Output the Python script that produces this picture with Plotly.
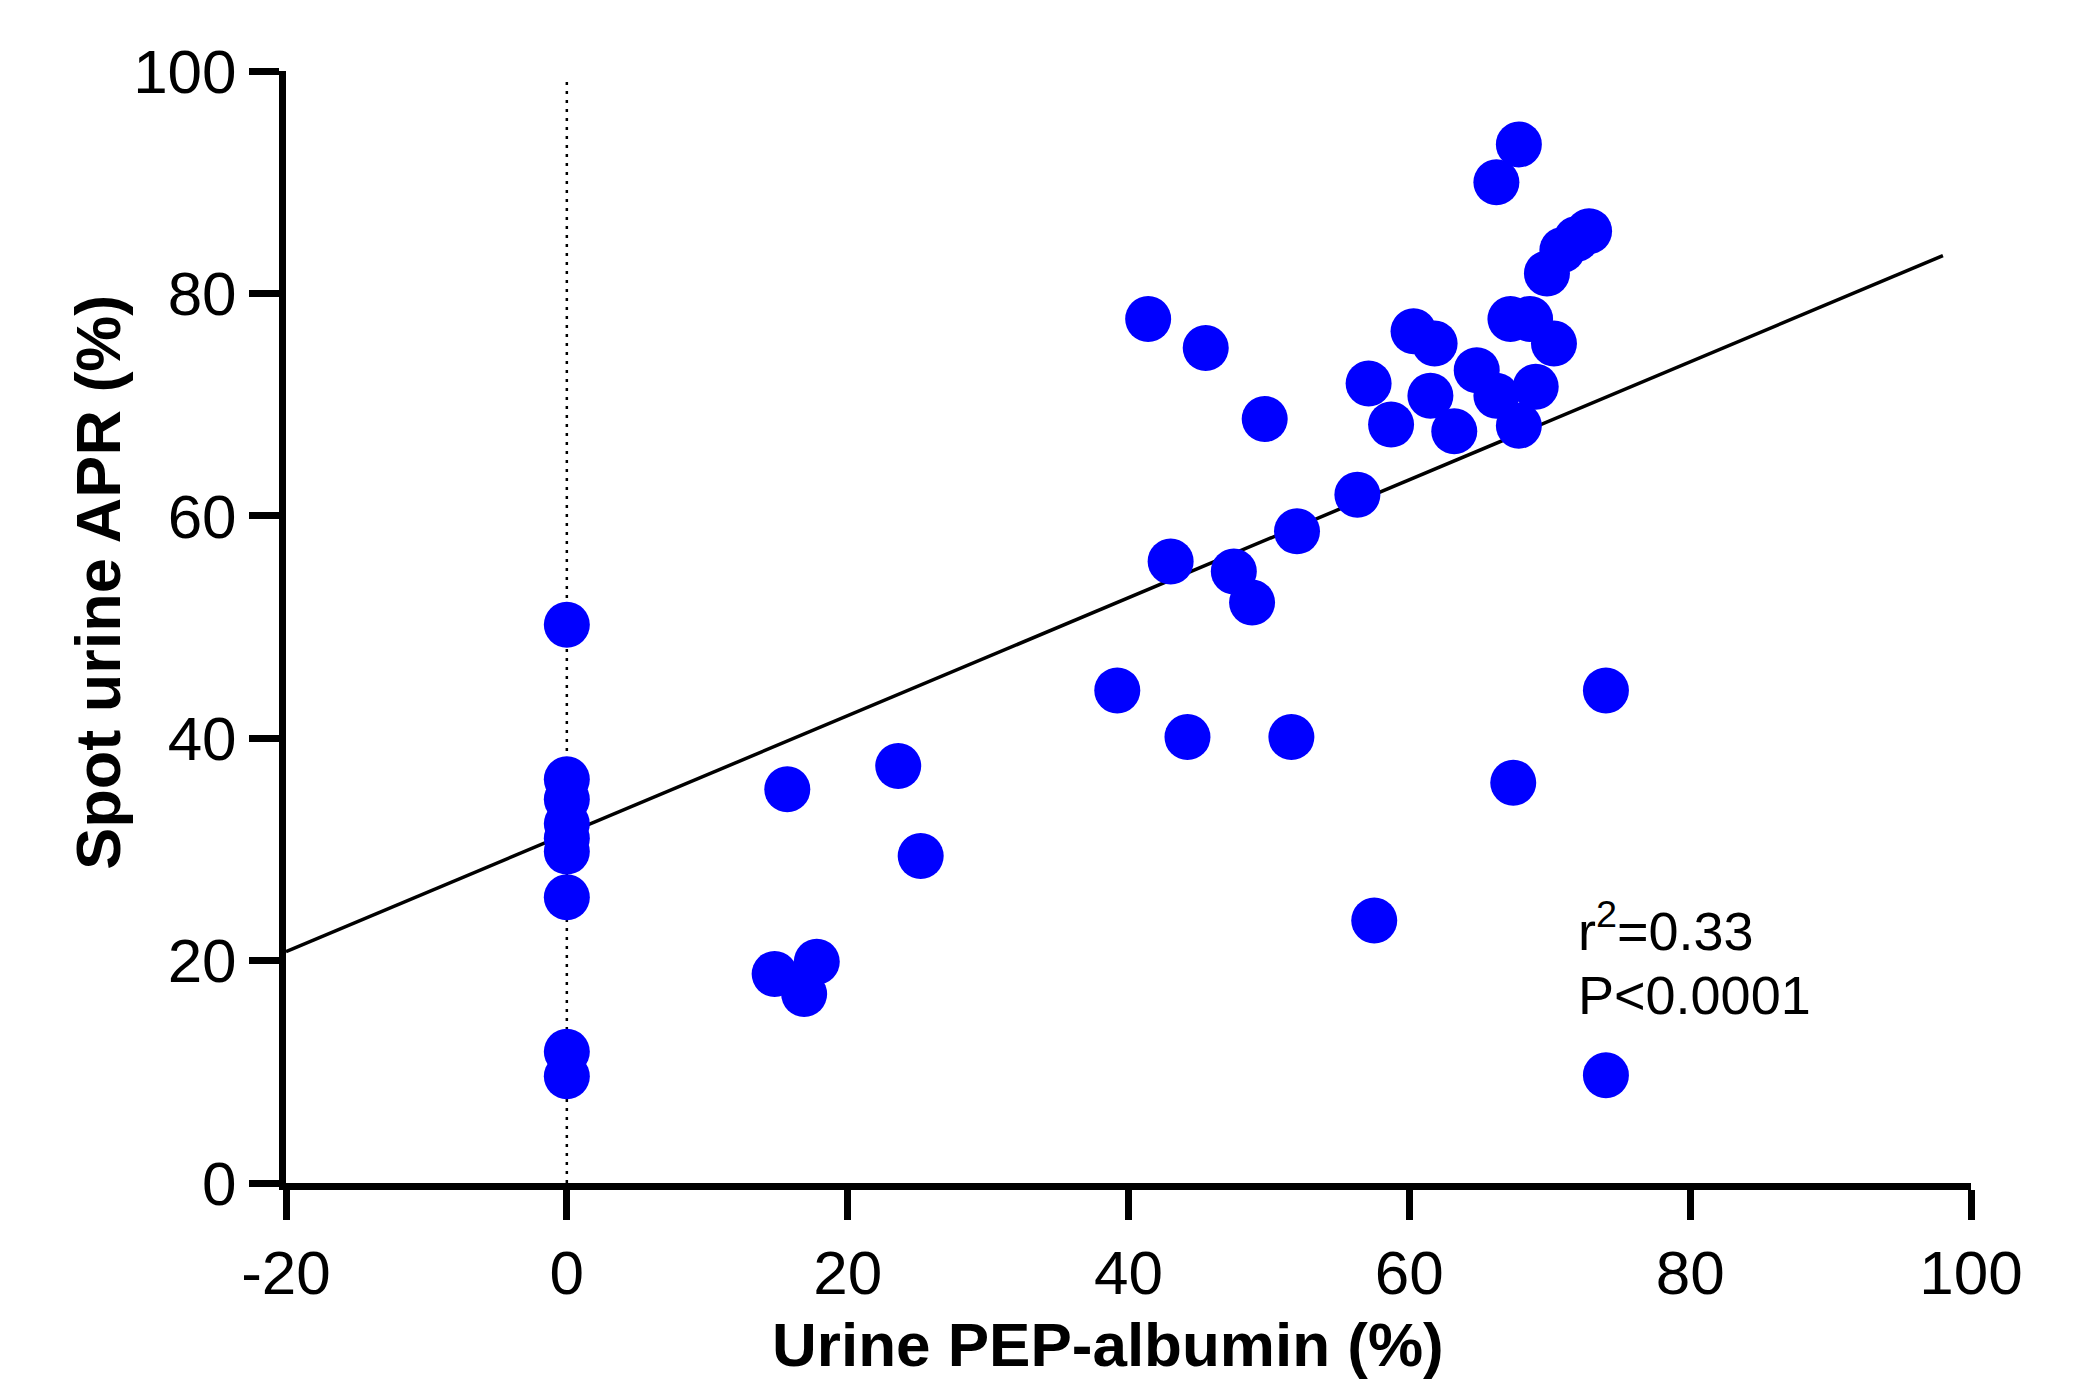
import plotly.graph_objects as go

# Data
pep_albumin = [0, 0, 0, 0, 0, 0, 0, 0, 0,
               14.8, 15.7, 16.9, 17.8, 23.6, 25.2,
               39.2, 41.4, 43.0, 44.2, 45.5, 47.5, 48.8, 49.7, 51.6, 52.0,
               56.3, 57.1, 57.5, 58.7, 60.3, 61.5, 61.8, 63.2, 64.8, 66.2,
               66.2, 67.2, 67.4, 67.8, 67.8, 68.6, 69.0, 69.8, 70.3, 70.9,
               71.9, 72.8, 74.0, 74.0]
spot_apr = [50.2, 36.3, 34.5, 32.3, 31.0, 29.8, 25.7, 11.8, 9.6,
            18.8, 35.4, 17.0, 19.9, 37.5, 29.4,
            44.3, 77.7, 55.9, 40.1, 75.1, 55.0, 52.2, 68.7, 40.1, 58.6,
            61.9, 71.9, 23.6, 68.2, 76.6, 70.8, 75.5, 67.6, 73.1, 70.8,
            90.0, 77.7, 36.0, 93.4, 68.1, 77.7, 71.6, 81.8, 75.5, 83.9,
            84.9, 85.6, 44.3, 9.7]

fit_x = [-20, 98.0]
fit_y = [20.8, 83.4]

ref_x = [0, 0]
ref_y = [0, 99.5]

x_ticks = [-20, 0, 20, 40, 60, 80, 100]
x_tick_labels = ["-20", "0", "20", "40", "60", "80", "100"]
y_ticks = [0, 20, 40, 60, 80, 100]
y_tick_labels = ["0", "20", "40", "60", "80", "100"]

FONT = "Liberation Sans, Arial, Helvetica, sans-serif"

fig = go.Figure()
fig.add_trace(go.Scatter(x=ref_x, y=ref_y, mode="lines",
                         line=dict(color="black", width=2.5, dash="3px,6px"),
                         showlegend=False, hoverinfo="skip"))
fig.add_trace(go.Scatter(x=fit_x, y=fit_y, mode="lines",
                         line=dict(color="black", width=3.5),
                         showlegend=False, hoverinfo="skip"))
fig.add_trace(go.Scatter(x=pep_albumin, y=spot_apr, mode="markers",
                         marker=dict(color="#0000FF", size=46, line=dict(width=0)),
                         showlegend=False, cliponaxis=False))

axis_common = dict(showline=True, linecolor="black", linewidth=7,
                   ticks="outside", ticklen=30, tickwidth=7, tickcolor="black",
                   showgrid=False, zeroline=False, mirror=False,
                   tickfont=dict(family=FONT, size=62, color="black"))

fig.update_layout(
    width=2075, height=1389,
    margin=dict(l=286, r=104, t=71, b=206, autoexpand=False),
    paper_bgcolor="white", plot_bgcolor="white",
    xaxis=dict(range=[-20, 100], tickmode="array", tickvals=x_ticks,
               ticktext=x_tick_labels, **axis_common),
    yaxis=dict(range=[0, 100], tickmode="array", tickvals=y_ticks,
               ticktext=y_tick_labels, **axis_common),
    annotations=[
        dict(text="<b>Urine PEP-albumin (%)</b>", xref="paper", yref="paper",
             x=0.488, y=-0.145, xanchor="center", yanchor="middle", showarrow=False,
             font=dict(family=FONT, size=62, color="black")),
        dict(text="<b>Spot urine APR (%)</b>", xref="paper", yref="paper",
             x=-0.112, y=0.54, xanchor="center", yanchor="middle", textangle=-90,
             showarrow=False, font=dict(family=FONT, size=63, color="black")),
        dict(text="r<sup>2</sup>=0.33", xref="x", yref="y", x=71.9, y=23.0,
             xanchor="left", yanchor="middle", showarrow=False,
             font=dict(family=FONT, size=54, color="black")),
        dict(text="P&lt;0.0001", xref="x", yref="y", x=71.9, y=16.9,
             xanchor="left", yanchor="middle", showarrow=False,
             font=dict(family=FONT, size=54, color="black")),
    ],
)

fig.write_html("out.html")
